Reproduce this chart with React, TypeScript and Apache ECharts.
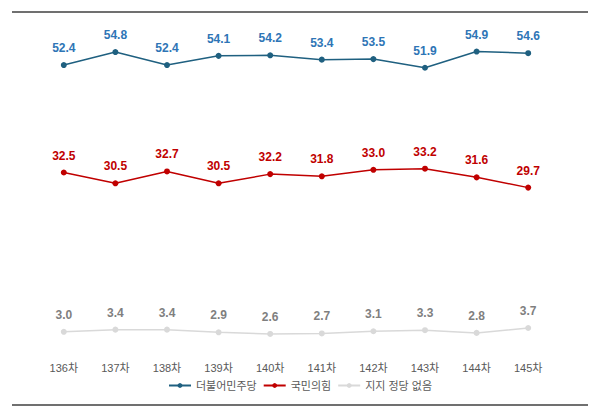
import React, { useEffect, useRef } from "react";
import * as echarts from "echarts";

const categories = ["136차","137차","138차","139차","140차","141차","142차","143차","144차","145차"];
const dem = [52.4,54.8,52.4,54.1,54.2,53.4,53.5,51.9,54.9,54.6];
const ppp = [32.5,30.5,32.7,30.5,32.2,31.8,33.0,33.2,31.6,29.7];
const none = [3.0,3.4,3.4,2.9,2.6,2.7,3.1,3.3,2.8,3.7];

export default function App() {
  const ref = useRef<HTMLDivElement>(null);
  useEffect(() => {
    const chart = echarts.init(ref.current!, null, { renderer: "svg" });
    const mk = (name: string, data: number[], color: string, labelColor: string) => ({
      name, type: "line", data, symbol: "circle", symbolSize: 6,
      lineStyle: { color, width: 1.5 }, itemStyle: { color },
      label: { show: true, position: "top", distance: 8, color: labelColor, fontWeight: "bold", fontSize: 12, formatter: (p: any) => p.value.toFixed(1) },
    });
    chart.setOption({
      animation: false,
      textStyle: { fontFamily: "Arial, 'Noto Sans CJK KR', sans-serif" },
      grid: { left: 38, right: 46, top: 24, bottom: 65 },
      xAxis: {
        type: "category", data: categories, boundaryGap: true,
        axisLine: { show: false }, axisTick: { show: false },
        axisLabel: { color: "#595959", fontSize: 11, margin: 14 },
      },
      yAxis: { type: "value", min: 0, max: 60, show: false, splitLine: { show: false } },
      legend: {
        bottom: 17, itemWidth: 22, itemHeight: 6, itemGap: 6,
        textStyle: { color: "#595959", fontSize: 11 },
        data: ["더불어민주당", "국민의힘", "지지 정당 없음"],
      },
      graphic: [
        { type: "line", shape: { x1: 12, y1: 12, x2: 588, y2: 12 }, style: { stroke: "#404040", lineWidth: 1.5 } },
        { type: "line", shape: { x1: 12, y1: 405, x2: 588, y2: 405 }, style: { stroke: "#404040", lineWidth: 1.5 } },
      ],
      series: [
        mk("더불어민주당", dem, "#1f6080", "#2e75b6"),
        mk("국민의힘", ppp, "#c00000", "#c00000"),
        mk("지지 정당 없음", none, "#d9d9d9", "#7f7f7f"),
      ],
    });
    return () => chart.dispose();
  }, []);
  return <div ref={ref} style={{ width: 600, height: 413, position: "absolute", left: 0, top: 0 }} />;
}
